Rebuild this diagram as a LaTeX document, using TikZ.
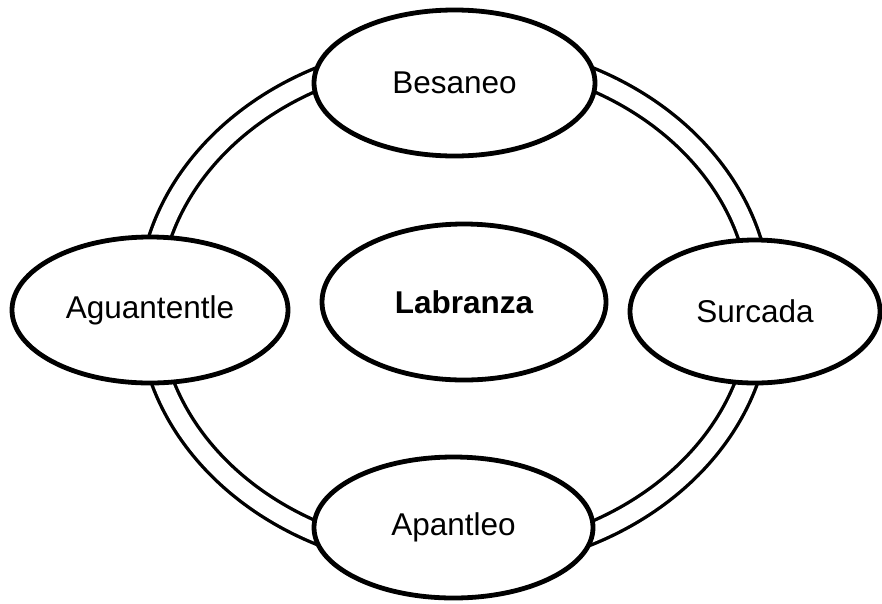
\documentclass[tikz,border=0pt]{standalone}
\usepackage{fontspec}
\setmainfont{Liberation Sans}
\usetikzlibrary{shapes.geometric}
\begin{document}
\begin{tikzpicture}[x=1pt,y=-1pt,
  stage/.style={ellipse, draw=black, line width=4.8pt, fill=white, inner sep=0pt,
    font=\fontsize{31.5}{38}\selectfont},
  ringline/.style={draw=black, line width=3.4pt, double=white, double distance=18pt}]
  \useasboundingbox (0,0) rectangle (882,603);
  % double ring joining the four stages
  \coordinate (hub) at (454.5,306);
  \draw[ringline] (hub) ellipse [x radius=306, y radius=254];
  % stages on the ring
  \node[stage, minimum width=281pt, minimum height=146pt] (besaneo) at (454.5,83) {Besaneo};
  \node[stage, minimum width=276pt, minimum height=146pt] (aguantentle) at (150,310) {Aguantentle};
  \node[stage, minimum width=250pt, minimum height=143pt] (surcada) at (755,311.5) {Surcada};
  \node[stage, minimum width=279pt, minimum height=141pt] (apantleo) at (453.5,527.5) {Apantleo};
  % central stage
  \node[stage, minimum width=284pt, minimum height=156pt, font=\fontsize{31.5}{38}\selectfont\bfseries] (labranza) at (464,302) {Labranza};
\end{tikzpicture}
\end{document}
